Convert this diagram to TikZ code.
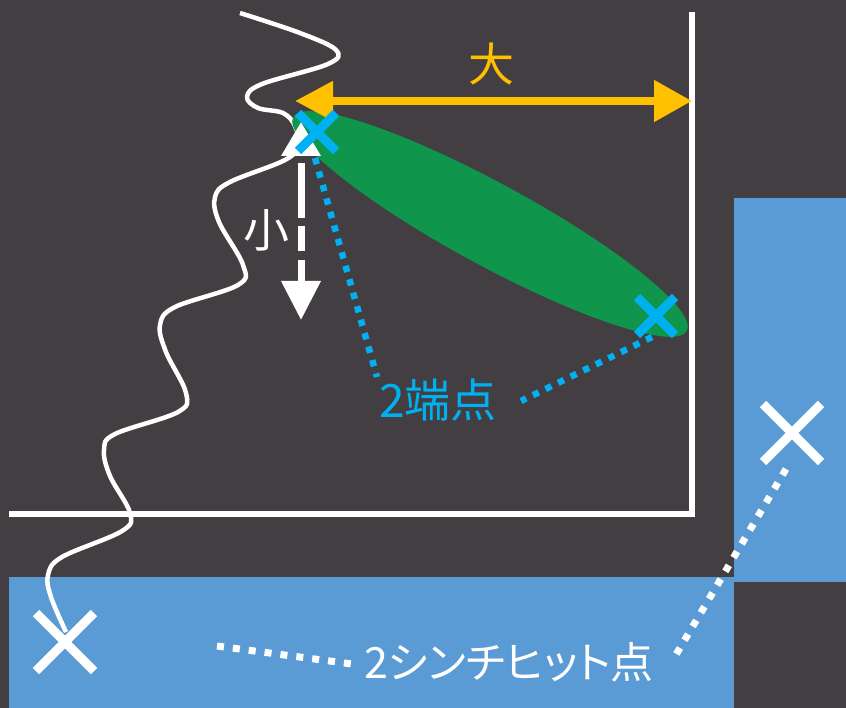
\documentclass[tikz,border=0pt]{standalone}
\usepackage{fontspec}
\newfontfamily\jp{Noto Sans CJK JP}
\newfontfamily\jpp{Noto Sans CJK JP}[RawFeature=+palt]
\usetikzlibrary{arrows.meta}
\definecolor{bg}{HTML}{423E42}
\definecolor{boxblue}{HTML}{5B9BD5}
\definecolor{ellgreen}{HTML}{10964C}
\definecolor{ycol}{HTML}{FFC000}
\definecolor{ccol}{HTML}{00B0F0}
\begin{document}
\begin{tikzpicture}[x=1pt,y=-1pt,
  axisline/.style={draw=white, line width=6.5pt},
  waveline/.style={draw=white, line width=4.5pt},
  cyanx/.style={draw=ccol, line width=9pt},
  whitex/.style={draw=white, line width=9pt},
  cyandot/.style={draw=ccol, line width=6.5pt, dash pattern=on 6.5pt off 7.5pt},
  whitedot/.style={draw=white, line width=7pt, dash pattern=on 7pt off 9pt},
  lbl/.style={inner sep=0pt, font=\jp\fontsize{46}{50}\selectfont}
]
\fill[bg] (0,0) rectangle (846,708);
\useasboundingbox (0,0) rectangle (846,708);
% blue areas
\fill[boxblue] (9,577) rectangle (734,708);
\fill[boxblue] (734,198) rectangle (846,582);
% axes
\coordinate (axtop) at (692,12);
\coordinate (axcorner) at (692,514);
\coordinate (axleft) at (9,514);
\draw[axisline] (axtop) -- (axcorner) -- (axleft);
% wave
\draw[waveline, line join=round] plot[smooth, tension=0.6] coordinates {
 (240,13) (300,33) (336,50) (328,64) (262,84) (247,97) (258,108) (283,113) (295,126) (298,145)
 (285,160) (230,182) (215,197) (219,222) (243,265) (238,285) (175,307) (160,325) (166,352) (186,393)
 (178,412) (115,434) (104,450) (110,476) (130,513) (122,531) (62,557) (48,575) (51,597) (66,632)};
% ellipse
\fill[ellgreen, rotate around={-28.5:(490,224)}] (490,224) ellipse [x radius=224pt, y radius=41pt];
% yellow arrow
\coordinate (yl) at (295,101);
\coordinate (yr) at (692,101);
\draw[ycol, line width=8pt, {Triangle[length=38pt,width=38pt]}-{Triangle[length=38pt,width=40pt]}] (yl) -- (yr);
\node[lbl, text=ycol] (big) at (491,64) {大};
% white dashed arrow
\coordinate (wt) at (301,122);
\coordinate (wb) at (301,320);
\draw[white, line width=7pt, dash pattern=on 55pt off 8pt on 25pt off 9pt, dash phase=88pt,
  {Triangle[length=34pt,width=38pt]}-{Triangle[length=39pt,width=38pt]}] (wt) -- (wb);
\node[lbl, text=white] (small) at (266,230) {小};
% cyan x marks
\coordinate (c1) at (317,132);
\coordinate (c2) at (656,316);
\draw[cyanx] (c1) ++(-19,-19) -- ++(38,38) (c1) ++(-19,19) -- ++(38,-38);
\draw[cyanx] (c2) ++(-19,-19) -- ++(38,38) (c2) ++(-19,19) -- ++(38,-38);
% cyan label and dotted lines
\node[lbl, text=ccol] (ends) at (438,400) {2端点};
\coordinate (d1s) at (315,158);
\coordinate (d1e) at (377,377);
\coordinate (d2s) at (652,337);
\coordinate (d2e) at (521,401);
\draw[cyandot] (d1s) -- (d1e);
\draw[cyandot] (d2s) -- (d2e);
% white x marks
\coordinate (w1) at (65,642);
\coordinate (w2) at (792,433);
\draw[whitex] (w1) ++(-29,-29) -- ++(58,58) (w1) ++(-29,29) -- ++(58,-58);
\draw[whitex] (w2) ++(-29,-29) -- ++(58,58) (w2) ++(-29,29) -- ++(58,-58);
% bottom label and white dotted lines
\node[inner sep=0pt, font=\jpp\fontsize{43}{47}\selectfont, text=white] (hits) at (509,662) {2シンチヒット点};
\coordinate (e1s) at (217,646);
\coordinate (e1e) at (352,664);
\coordinate (e2s) at (786,469);
\coordinate (e2e) at (674,658);
\draw[whitedot] (e1s) -- (e1e);
\draw[whitedot] (e2s) -- (e2e);
\end{tikzpicture}
\end{document}
